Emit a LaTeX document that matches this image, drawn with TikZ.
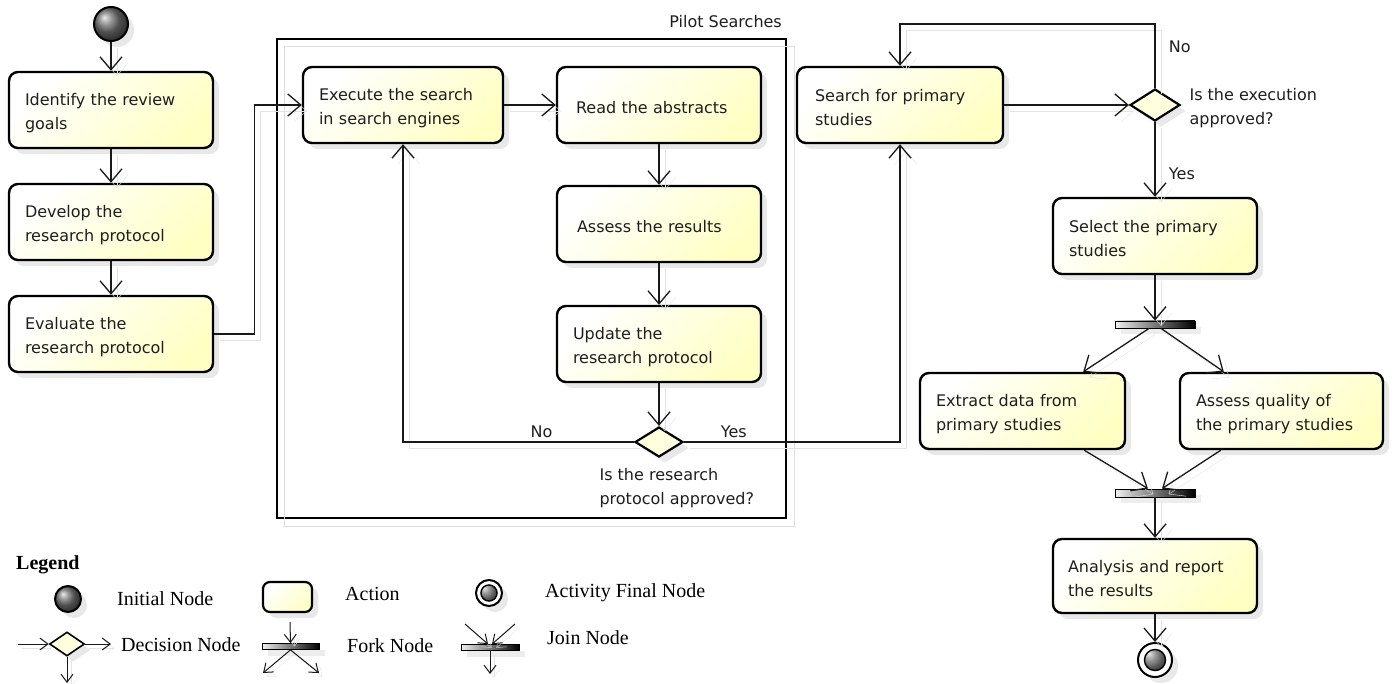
\documentclass[tikz,border=0pt]{standalone}
\usepackage{fontspec}
\setmainfont{DejaVu Sans}
\newfontfamily\legfont{Liberation Serif}
\usetikzlibrary{arrows.meta,shapes.geometric,shadows,calc}
\definecolor{boxyel}{RGB}{255,255,196}
\definecolor{diayel}{RGB}{255,255,222}
\definecolor{txt}{RGB}{30,30,30}
\begin{document}
\begin{tikzpicture}[x=1pt,y=-1pt,
  sh/.style={drop shadow={shadow xshift=6pt, shadow yshift=-6pt, fill=black!18, draw=none}},
  actbase/.style={draw=black, line width=2.4pt, rounded corners=9pt, left color=white, right color=boxyel, shading angle=45, inner sep=0pt, sh},
  act/.style={actbase, minimum width=204pt, minimum height=76pt, text width=172pt, align=left, text=txt, font=\fontsize{16}{24}\selectfont, execute at begin node={\rule{0pt}{18pt}}},
  dec/.style={shape=diamond, draw=black, line width=2.2pt, fill=diayel, inner sep=0pt, minimum width=48pt, minimum height=30pt, sh},
  bar/.style={draw=black, line width=0.8pt, left color=black!6, middle color=black!55, right color=black, inner sep=0pt, minimum width=80pt, minimum height=7pt, drop shadow={shadow xshift=6pt, shadow yshift=-6pt, fill=black!14, draw=none}},
  initn/.style={circle, draw=black, line width=2pt, ball color=black!55, minimum size=#1, inner sep=0pt, sh},
  finn/.style={circle, draw=black, line width=2pt, fill=white, minimum size=#1, inner sep=0pt, sh,
     path picture={\shade[ball color=black!55] (path picture bounding box.center) circle (#1*0.31);
                   \draw[line width=1.4pt] (path picture bounding box.center) circle (#1*0.31);}},
  arr/.style={draw=black!90, line width=1.3pt, -{Straight Barb[length=13pt,width=22pt]},
     preaction={draw=black!11, transform canvas={shift={(6pt,-6pt)}}}},
  larr/.style={draw=black!90, line width=1pt, -{Straight Barb[length=8pt,width=12pt]},
     preaction={draw=black!11, transform canvas={shift={(4pt,-4pt)}}}},
  lbl/.style={text=txt, font=\fontsize{16}{24}\selectfont, align=left},
  legtxt/.style={text=black, font=\legfont\fontsize{20}{24}\selectfont, inner sep=0pt}
]
\useasboundingbox (0,0) rectangle (1400,684);

% ---- Pilot Searches frame
\node[draw, line width=1.1pt, minimum width=509pt, minimum height=479pt, inner sep=0pt] (pilot) at (531.5,278.5) {};
\draw[black!13, line width=1.3pt] ([shift={(8,8)}]pilot.north west) rectangle ([shift={(8,8)}]pilot.south east);
\node[lbl, anchor=east, inner sep=0pt] (pilotlbl) at (782,22) {Pilot Searches};

% ---- nodes
\node[initn=34pt] (init) at (111,24) {};
\node[act] (b1) at (111,110) {Identify the review\\goals};
\node[act] (b2) at (111,222) {Develop the\\research protocol};
\node[act] (b3) at (111,334) {Evaluate the\\research protocol};

\node[act, minimum width=200pt, text width=168pt] (e) at (403,105) {Execute the search\\in search engines};
\node[act, text width=166pt] (r) at (659,105) {Read the abstracts};
\node[act, text width=164pt] (a) at (659,224) {Assess the results};
\node[act] (u) at (659,344) {Update the\\research protocol};
\node[dec] (d1) at (659,442) {};
\node[lbl, anchor=west] (q1) at (596,488) {Is the research\\protocol approved?};

\node[act, minimum width=206pt, text width=170pt] (s) at (900,105) {Search for primary\\studies};
\node[dec, minimum width=50pt, minimum height=32pt] (d2) at (1155,105) {};
\node[lbl, anchor=west] (q2) at (1186,108) {Is the execution\\approved?};
\node[act] (sel) at (1155,236) {Select the primary\\studies};
\node[bar] (f1) at (1155,324.5) {};
\node[act, minimum width=205pt, text width=173pt] (ex) at (1022.5,411) {Extract data from\\primary studies};
\node[act, minimum width=203pt, text width=171pt] (aq) at (1281.5,411) {Assess quality of\\the primary studies};
\node[bar, minimum height=8pt] (j1) at (1155,493) {};
\node[act, minimum height=74pt, text width=174pt] (an) at (1155,576) {Analysis and report\\the results};
\node[finn=34pt] (fin) at (1155,660) {};

% ---- connectors
\draw[arr] (init) -- (b1);
\draw[arr] (b1) -- (b2);
\draw[arr] (b2) -- (b3);
\draw[arr] (b3.east) -- ++(40,0) |- (e.west);
\draw[arr] (e) -- (r);
\draw[arr] (r) -- (a);
\draw[arr] (a) -- (u);
\draw[arr] (u) -- (d1);
\draw[arr] (d1.west) -| node[lbl, above, pos=0.2] (lno1) {No} (e.south);
\draw[arr] (d1.east) -| node[lbl, above, pos=0.115] (lyes1) {Yes} (s.south);
\draw[arr] (s) -- (d2);
\draw[arr] (d2.north) -- node[lbl, right=10pt, pos=0.64] (lno2) {No} ++(0,-64) -| (s.north);
\draw[arr] (d2) -- node[lbl, right=10pt, pos=0.69] (lyes2) {Yes} (sel);
\draw[arr] (sel) -- (f1);
\draw[arr] ([xshift=-6pt]f1.south) -- ([xshift=-43pt]ex.north east);
\draw[arr] ([xshift=6pt]f1.south) -- ([xshift=45pt]aq.north west);
\draw[arr] ([xshift=-42pt]ex.south east) -- ([xshift=-7pt]j1.north);
\draw[arr] ([xshift=42pt]aq.south west) -- ([xshift=7pt]j1.north);
\draw[arr] (j1) -- (an);
\draw[arr] (an) -- (fin);

% ---- legend
\node[legtxt, font=\legfont\bfseries\fontsize{20}{24}\selectfont, anchor=west] (legtitle) at (16,565) {Legend};
\node[initn=26pt] (linit) at (68,599) {};
\node[legtxt, anchor=west] (tinit) at (117,599) {Initial Node};
\node[actbase, line width=2.2pt, rounded corners=7pt, minimum width=49pt, minimum height=30pt] (lact) at (287.5,597) {};
\node[legtxt, anchor=west] (tact) at (345,594) {Action};
\node[finn=26pt] (lfin) at (489,593) {};
\node[legtxt, anchor=west] (tfin) at (545,593) {Activity Final Node};

\coordinate (ldin) at (18,644);
\node[dec, line width=1.6pt, minimum width=35pt, minimum height=24pt] (ldec) at (67,644) {};
\coordinate (ldout) at (111,644);
\coordinate (lddown) at (67,683);
\draw[larr] (ldin) -- (ldec);
\draw[larr] (ldec) -- (ldout);
\draw[larr] (ldec) -- (lddown);
\node[legtxt, anchor=west] (tdec) at (121,645) {Decision Node};

\node[bar, minimum width=57pt, minimum height=6pt] (lfork) at (290.5,646.5) {};
\coordinate (lfi) at (290,622);
\coordinate (lfo1) at (263,673);
\coordinate (lfo2) at (319,673);
\draw[larr] (lfi) -- (lfork.north);
\draw[larr] (lfork.south) -- (lfo1);
\draw[larr] (lfork.south) -- (lfo2);
\node[legtxt, anchor=west] (tfork) at (347,646) {Fork Node};

\node[bar, minimum width=58pt, minimum height=6pt] (ljoin) at (490,647.5) {};
\coordinate (lj1) at (465,624);
\coordinate (lj2) at (515,624);
\coordinate (ljout) at (490,674);
\draw[larr] (lj1) -- ([xshift=-2pt]ljoin.north);
\draw[larr] (lj2) -- ([xshift=2pt]ljoin.north);
\draw[larr] (ljoin.south) -- (ljout);
\node[legtxt, anchor=west] (tjoin) at (547,638) {Join Node};
\end{tikzpicture}
\end{document}
